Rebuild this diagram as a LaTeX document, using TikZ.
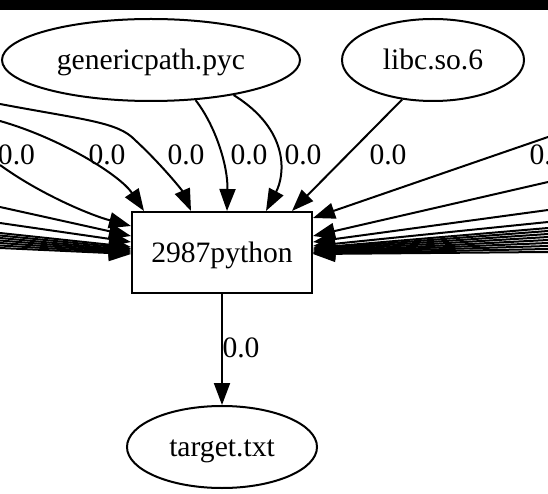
\documentclass[tikz,border=0pt]{standalone}
\usepackage{fontspec}
\setmainfont{Liberation Serif}
\usetikzlibrary{arrows.meta,shapes.geometric}
\tikzset{
  gnode/.style={font=\fontsize{29.6}{35}\selectfont, text height=21pt, text depth=2pt, inner sep=0pt, line width=2pt},
  ell/.style={gnode, draw, ellipse, minimum height=82pt},
  boxnode/.style={gnode, draw, rectangle, minimum width=180pt, minimum height=81pt},
  edge/.style={line width=2pt, -{Triangle[length=22pt,width=16pt]}},
  lbl/.style={font=\fontsize{29.6}{35}\selectfont, inner sep=0pt},
}
\begin{document}
\begin{tikzpicture}[x=1pt,y=-1pt]
\useasboundingbox (0,0) rectangle (548,494);
\fill[black] (0,0) rectangle (548,10);
% nodes
\node[ell, minimum width=298pt] (gp) at (151,60) {genericpath.pyc};
\node[ell, minimum width=182pt] (libc) at (433,60) {libc.so.6};
\node[boxnode] (py) at (222,252.5) {2987python};
\node[ell, minimum width=190pt] (tgt) at (222,447) {target.txt};
% free ends
\coordinate (la) at (0,104);
\coordinate (lb) at (0,121);
\coordinate (lc) at (0,165);
\coordinate (ld) at (0,207);
\coordinate (le) at (0,223);
\coordinate (r1) at (548,137);
\coordinate (r2) at (548,182);
\coordinate (r3) at (548,210);
\coordinate (r4) at (548,222);
% top edges
\draw[edge] (la) .. controls (85,120) and (118,122) .. (135,140) .. controls (160,163) and (182,190) .. ([xshift=60pt]py.north west);
\draw[edge] (lb) .. controls (60,138) and (120,175) .. ([xshift=13pt]py.north west);
\draw[edge] (gp.-42) .. controls (215,125) and (228,165) .. ([xshift=96pt]py.north west);
\draw[edge] (gp.-23) .. controls (290,130) and (285,175) .. ([xshift=135pt]py.north west);
\draw[edge] (libc.-128) -- ([xshift=161pt]py.north west);
% left edges
\draw[edge] (lc) .. controls (40,194) and (90,215) .. ([yshift=26.5pt]py.west);
\draw[edge] (ld) -- ([yshift=16.5pt]py.west);
\draw[edge] (le) -- ([yshift=10.5pt]py.west);
\foreach \i/\y/\s in {1/233/5.5, 2/235.5/4, 3/238/2.5, 4/240.5/1.5, 5/243/0.5, 6/245.5/-0.5, 7/248/-1.5} {
  \coordinate (lbd\i) at (0,\y);
  \draw[edge] (lbd\i) -- ([yshift=\s pt]py.west);
}
% right edges
\draw[edge] (r1) -- ([yshift=34.5pt]py.east);
\draw[edge] (r2) -- ([yshift=16.5pt]py.east);
\draw[edge] (r3) -- ([yshift=10.5pt]py.east);
\draw[edge] (r4) -- ([yshift=6.5pt]py.east);
\foreach \i/\y/\s in {1/228/4.5, 2/231/3.5, 3/234/2.5, 4/237/1.5, 5/240/0.5, 6/243/0, 7/246/-0.5, 8/249/-1, 9/252/-1.5} {
  \coordinate (rbd\i) at (548,\y);
  \draw[edge] (rbd\i) -- ([yshift=\s pt]py.east);
}
% bottom edge
\draw[edge] (py) -- (tgt);
% labels
\node[lbl] (t1) at (16.5,155) {0.0};
\node[lbl] (t2) at (107,155) {0.0};
\node[lbl] (t3) at (186,155) {0.0};
\node[lbl] (t4) at (249,155) {0.0};
\node[lbl] (t5) at (303,155) {0.0};
\node[lbl] (t6) at (388,155) {0.0};
\node[lbl] (t7) at (548,155) {0.0};
\node[lbl] (t8) at (241,348) {0.0};
\end{tikzpicture}
\end{document}
